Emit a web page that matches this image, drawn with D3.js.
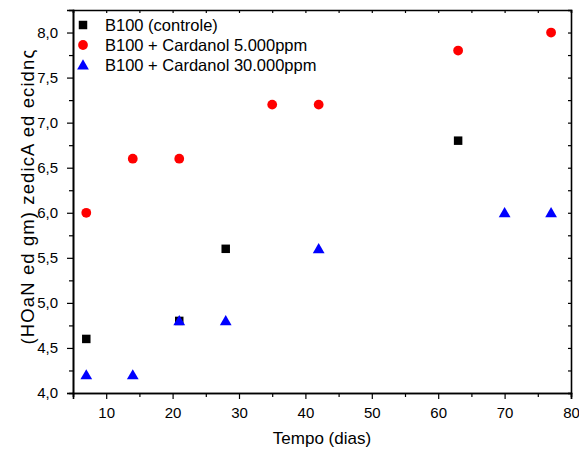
<!DOCTYPE html>
<html>
<head>
<meta charset="utf-8">
<script src="https://cdn.jsdelivr.net/npm/d3@7"></script>
<style>
  body { margin: 0; background: #fff; }
  svg { font-family: "Liberation Sans", Arial, sans-serif; }
</style>
</head>
<body>
<div id="chart"></div>
<script>
// data
const controleDias = [7, 21, 28, 63];
const controleAcidez = [4.6, 4.8, 5.6, 6.8];
const card5Dias = [7, 14, 21, 35, 42, 63, 77];
const card5Acidez = [6.0, 6.6, 6.6, 7.2, 7.2, 7.8, 8.0];
const card30Dias = [7, 14, 21, 28, 42, 70, 77];
const card30Acidez = [4.2, 4.2, 4.8, 4.8, 5.6, 6.0, 6.0];
const seriesNames = ["B100 (controle)", "B100 + Cardanol 5.000ppm", "B100 + Cardanol 30.000ppm"];
const xTicks = [10, 20, 30, 40, 50, 60, 70, 80];
const yTicks = [4.0, 4.5, 5.0, 5.5, 6.0, 6.5, 7.0, 7.5, 8.0];

const W = 579, H = 450;
const m = {top: 10, right: 8, bottom: 57, left: 73};

const svg = d3.select("#chart").append("svg")
    .attr("width", W).attr("height", H);

const x = d3.scaleLinear().domain([5, 80]).range([m.left, W - m.right]);
const y = d3.scaleLinear().domain([4, 8.25]).range([H - m.bottom, m.top]);

const ptBR = d3.formatLocale({decimal: ",", thousands: ".", grouping: [3], currency: ["", ""]});
const fmt = ptBR.format(".1f");

const xMinor = d3.range(5, 81, 5).filter(v => !xTicks.includes(v));
const yMinor = d3.range(4.25, 8.25, 0.5);

function styleAxis(g) {
    g.select(".domain").attr("stroke", "#000").attr("stroke-width", 1.6);
    g.selectAll(".tick line").attr("stroke", "#000").attr("stroke-width", 1.2);
    g.selectAll(".tick text").attr("fill", "#000").style("font-size", "15px");
    g.attr("font-family", null);
}

// bottom axis
svg.append("g")
    .attr("transform", `translate(0,${H - m.bottom})`)
    .call(d3.axisBottom(x).tickValues(xTicks).tickSize(6).tickPadding(8).tickFormat(d3.format("d")))
    .call(styleAxis);
svg.append("g")
    .attr("transform", `translate(0,${H - m.bottom})`)
    .call(d3.axisBottom(x).tickValues(xMinor).tickSize(4).tickFormat(""))
    .call(styleAxis);

// left axis
svg.append("g")
    .attr("transform", `translate(${m.left},0)`)
    .call(d3.axisLeft(y).tickValues(yTicks).tickSize(6).tickPadding(9).tickFormat(fmt))
    .call(styleAxis);
svg.append("g")
    .attr("transform", `translate(${m.left},0)`)
    .call(d3.axisLeft(y).tickValues(yMinor).tickSize(4).tickFormat(""))
    .call(styleAxis);

// top and right frame with inward ticks
svg.append("g")
    .attr("transform", `translate(0,${m.top})`)
    .call(d3.axisTop(x).tickValues(xTicks.concat(xMinor)).tickSize(-3).tickFormat(""))
    .call(styleAxis);
svg.append("g")
    .attr("transform", `translate(${W - m.right},0)`)
    .call(d3.axisRight(y).tickValues(yTicks.concat(yMinor)).tickSize(-3).tickFormat(""))
    .call(styleAxis);

// axis titles
svg.append("text")
    .attr("x", (m.left + W - m.right) / 2).attr("y", 444)
    .attr("text-anchor", "middle")
    .style("font-size", "17px")
    .text("Tempo (dias)");

svg.append("text")
    .attr("transform", `translate(34,${(m.top + H - m.bottom) / 2 - 5}) rotate(-90)`)
    .attr("text-anchor", "middle")
    .style("font-size", "18.5px")
    .style("letter-spacing", "1.1px")
    .text("(HOaN ed gm) zedicA ed ecidnς");

// markers
const sq = d3.symbol().type(d3.symbolSquare).size(72);
const circ = d3.symbol().type(d3.symbolCircle).size(75);
const tri = d3.symbol().type(d3.symbolTriangle).size(60);

const pts = svg.append("g").attr("class", "points");
pts.selectAll(".red").data(d3.zip(card5Dias, card5Acidez)).join("path")
    .attr("d", circ).attr("fill", "#ff0000")
    .attr("transform", d => `translate(${x(d[0])},${y(d[1])})`);
pts.selectAll(".black").data(d3.zip(controleDias, controleAcidez)).join("path")
    .attr("d", sq).attr("fill", "#000")
    .attr("transform", d => `translate(${x(d[0])},${y(d[1])})`);
pts.selectAll(".blue").data(d3.zip(card30Dias, card30Acidez)).join("path")
    .attr("d", tri).attr("fill", "#0000ff")
    .attr("transform", d => `translate(${x(d[0])},${y(d[1]) + 1})`);

// legend
const legend = svg.append("g").attr("class", "legend");
const symbols = [sq, circ, tri];
const colors = ["#000", "#ff0000", "#0000ff"];
const rowY = [25, 45, 65];
seriesNames.forEach((name, i) => {
    legend.append("path")
        .attr("d", symbols[i]).attr("fill", colors[i])
        .attr("transform", `translate(83,${rowY[i] + (i === 2 ? 1 : 0)})`);
    legend.append("text")
        .attr("x", 105).attr("y", rowY[i] + 6)
        .style("font-size", "16.5px")
        .text(name);
});
</script>
</body>
</html>
